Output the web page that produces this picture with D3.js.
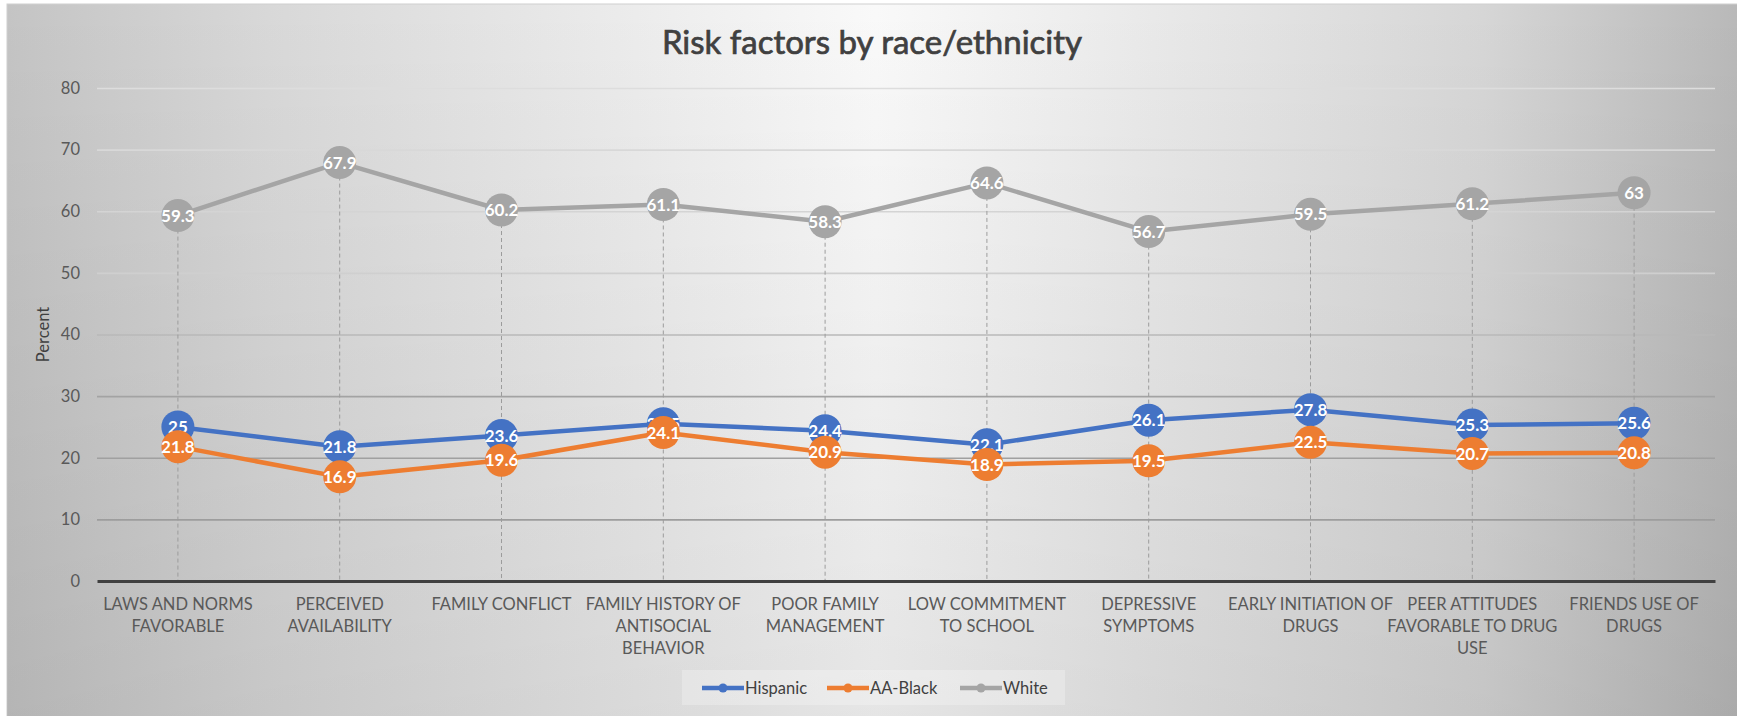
<!DOCTYPE html>
<html>
<head>
<meta charset="utf-8">
<script src="https://cdn.jsdelivr.net/npm/d3@7"></script>
<style>
  body { margin: 0; background: #fff; }
  svg { display: block; font-family: Lato, "Open Sans", sans-serif; }
</style>
</head>
<body>
<div id="chart"></div>
<script>
// chart values
const categories = [
  'LAWS AND NORMS\nFAVORABLE',
  'PERCEIVED\nAVAILABILITY',
  'FAMILY CONFLICT',
  'FAMILY HISTORY OF\nANTISOCIAL\nBEHAVIOR',
  'POOR FAMILY\nMANAGEMENT',
  'LOW COMMITMENT\nTO SCHOOL',
  'DEPRESSIVE\nSYMPTOMS',
  'EARLY INITIATION OF\nDRUGS',
  'PEER ATTITUDES\nFAVORABLE TO DRUG\nUSE',
  'FRIENDS USE OF\nDRUGS'
];
const hispanic = [25, 21.8, 23.6, 25.5, 24.4, 22.1, 26.1, 27.8, 25.3, 25.6];
const aaBlack = [21.8, 16.9, 19.6, 24.1, 20.9, 18.9, 19.5, 22.5, 20.7, 20.8];
const white = [59.3, 67.9, 60.2, 61.1, 58.3, 64.6, 56.7, 59.5, 61.2, 63];
const seriesNames = ['Hispanic', 'AA-Black', 'White'];
const yTicks = [0, 10, 20, 30, 40, 50, 60, 70, 80];

const seriesColors = ['#4472C4', '#ED7D31', '#A5A5A5'];
const allSeries = [hispanic, aaBlack, white];

const width = 1737;
const height = 716;
const margin = { top: 88, right: 22, bottom: 135, left: 97 };

const svg = d3.select('#chart').append('svg')
  .attr('width', width)
  .attr('height', height);

// background gradients
const defs = svg.append('defs');
const hGrad = defs.append('linearGradient').attr('id', 'bgH')
  .attr('x1', '0').attr('x2', '1').attr('y1', '0').attr('y2', '0');
[[0, '#c4c4c4'], [0.15, '#d8d8d8'], [0.5, '#f9f9f9'], [0.85, '#d6d6d6'], [1, '#b8b8b8']]
  .forEach(([o, c]) => hGrad.append('stop').attr('offset', o).attr('stop-color', c));
const vGrad = defs.append('linearGradient').attr('id', 'bgV')
  .attr('x1', '0').attr('x2', '0').attr('y1', '0').attr('y2', '1');
vGrad.append('stop').attr('offset', 0).attr('stop-color', '#000').attr('stop-opacity', 0);
vGrad.append('stop').attr('offset', 1).attr('stop-color', '#000').attr('stop-opacity', 0.08);

svg.append('rect').attr('x', 7).attr('y', 4).attr('width', width).attr('height', height)
  .attr('fill', 'url(#bgH)').attr('stroke', '#cfcfcf');
svg.append('rect').attr('x', 7).attr('y', 4).attr('width', width).attr('height', height)
  .attr('fill', 'url(#bgV)');

const x = d3.scalePoint()
  .domain(categories)
  .range([margin.left, width - margin.right])
  .padding(0.5);

const y = d3.scaleLinear()
  .domain([0, 80])
  .range([height - margin.bottom, margin.top]);

// gridline colour changes from top to bottom
const gridColor = d3.scaleLinear()
  .domain([0, 30, 50, 80])
  .range(['#9a9a9a', '#a3a3a3', '#cfcfcf', '#dddddd']);

const grid = svg.append('g')
  .attr('transform', `translate(${margin.left},0)`)
  .call(d3.axisLeft(y).tickValues(yTicks.filter(d => d > 0)).tickFormat('')
    .tickSize(-(width - margin.left - margin.right)));
grid.select('.domain').remove();
grid.selectAll('line').attr('stroke', d => gridColor(d)).attr('stroke-width', 1.6);

// y tick labels
const yAxis = svg.append('g')
  .attr('transform', `translate(${margin.left},0)`)
  .call(d3.axisLeft(y).tickValues(yTicks).tickSize(0).tickPadding(17));
yAxis.select('.domain').remove();
yAxis.selectAll('text')
  .attr('font-family', 'Lato, sans-serif')
  .attr('font-size', 16.5)
  .attr('fill', '#595959');

svg.append('text')
  .attr('transform', `translate(49,${(y(0) + y(80)) / 2}) rotate(-90)`)
  .attr('text-anchor', 'middle')
  .attr('font-size', 16.5)
  .attr('fill', '#404040')
  .text('Percent');

// drop lines from the top series to the axis
svg.append('g').selectAll('line')
  .data(categories)
  .join('line')
  .attr('x1', d => x(d)).attr('x2', d => x(d))
  .attr('y1', (d, i) => y(white[i])).attr('y2', y(0))
  .attr('stroke', '#9c9c9c')
  .attr('stroke-width', 1)
  .attr('stroke-dasharray', '4,3');

// x axis
const xAxis = svg.append('g')
  .attr('transform', `translate(0,${y(0)})`)
  .call(d3.axisBottom(x).tickSize(0).tickFormat(''));
xAxis.select('.domain').attr('stroke', '#404040').attr('stroke-width', 3);

const xLabels = svg.append('g').selectAll('text')
  .data(categories)
  .join('text')
  .attr('text-anchor', 'middle')
  .attr('font-size', 16.5)
  .attr('fill', '#595959');
xLabels.each(function (d) {
  d.split('\n').forEach((line, i) => {
    d3.select(this).append('tspan')
      .attr('x', x(d))
      .attr('y', y(0) + 29 + i * 22)
      .text(line);
  });
});

// series: line, markers, labels
allSeries.forEach((values, s) => {
  const g = svg.append('g');
  const pts = values.map((v, i) => ({ c: categories[i], v }));
  g.append('path')
    .datum(pts)
    .attr('fill', 'none')
    .attr('stroke', seriesColors[s])
    .attr('stroke-width', 4.5)
    .attr('stroke-linejoin', 'round')
    .attr('d', d3.line().x(d => x(d.c)).y(d => y(d.v)));
  const m = g.selectAll('g.m')
    .data(pts)
    .join('g')
    .attr('class', 'm')
    .attr('transform', d => `translate(${x(d.c)},${y(d.v)})`);
  m.append('circle')
    .attr('r', 16.5)
    .attr('fill', seriesColors[s]);
  m.append('text')
    .attr('text-anchor', 'middle')
    .attr('dy', '0.36em')
    .attr('font-size', 17)
    .attr('font-weight', 'bold')
    .attr('fill', '#fff')
    .text(d => d.v);
});

// title
svg.append('text')
  .attr('x', 872)
  .attr('y', 54)
  .attr('text-anchor', 'middle')
  .attr('font-size', 33)
  .attr('fill', '#404040')
  .attr('stroke', '#404040')
  .attr('stroke-width', 0.7)
  .text('Risk factors by race/ethnicity');

// legend
const legend = svg.append('g');
legend.append('rect')
  .attr('x', 682).attr('y', 670).attr('width', 383).attr('height', 35)
  .attr('fill', '#fff').attr('fill-opacity', 0.25);
const legendX = [702, 827, 960];
seriesNames.forEach((name, s) => {
  const lg = legend.append('g').attr('transform', `translate(${legendX[s]},688)`);
  lg.append('line').attr('x1', 0).attr('x2', 42)
    .attr('stroke', seriesColors[s]).attr('stroke-width', 4.5);
  lg.append('circle').attr('cx', 21).attr('r', 4.5).attr('fill', seriesColors[s]);
  lg.append('text').attr('x', 43).attr('dy', '0.36em')
    .attr('font-size', 16.5).attr('fill', '#404040')
    .text(name);
});
</script>
</body>
</html>
